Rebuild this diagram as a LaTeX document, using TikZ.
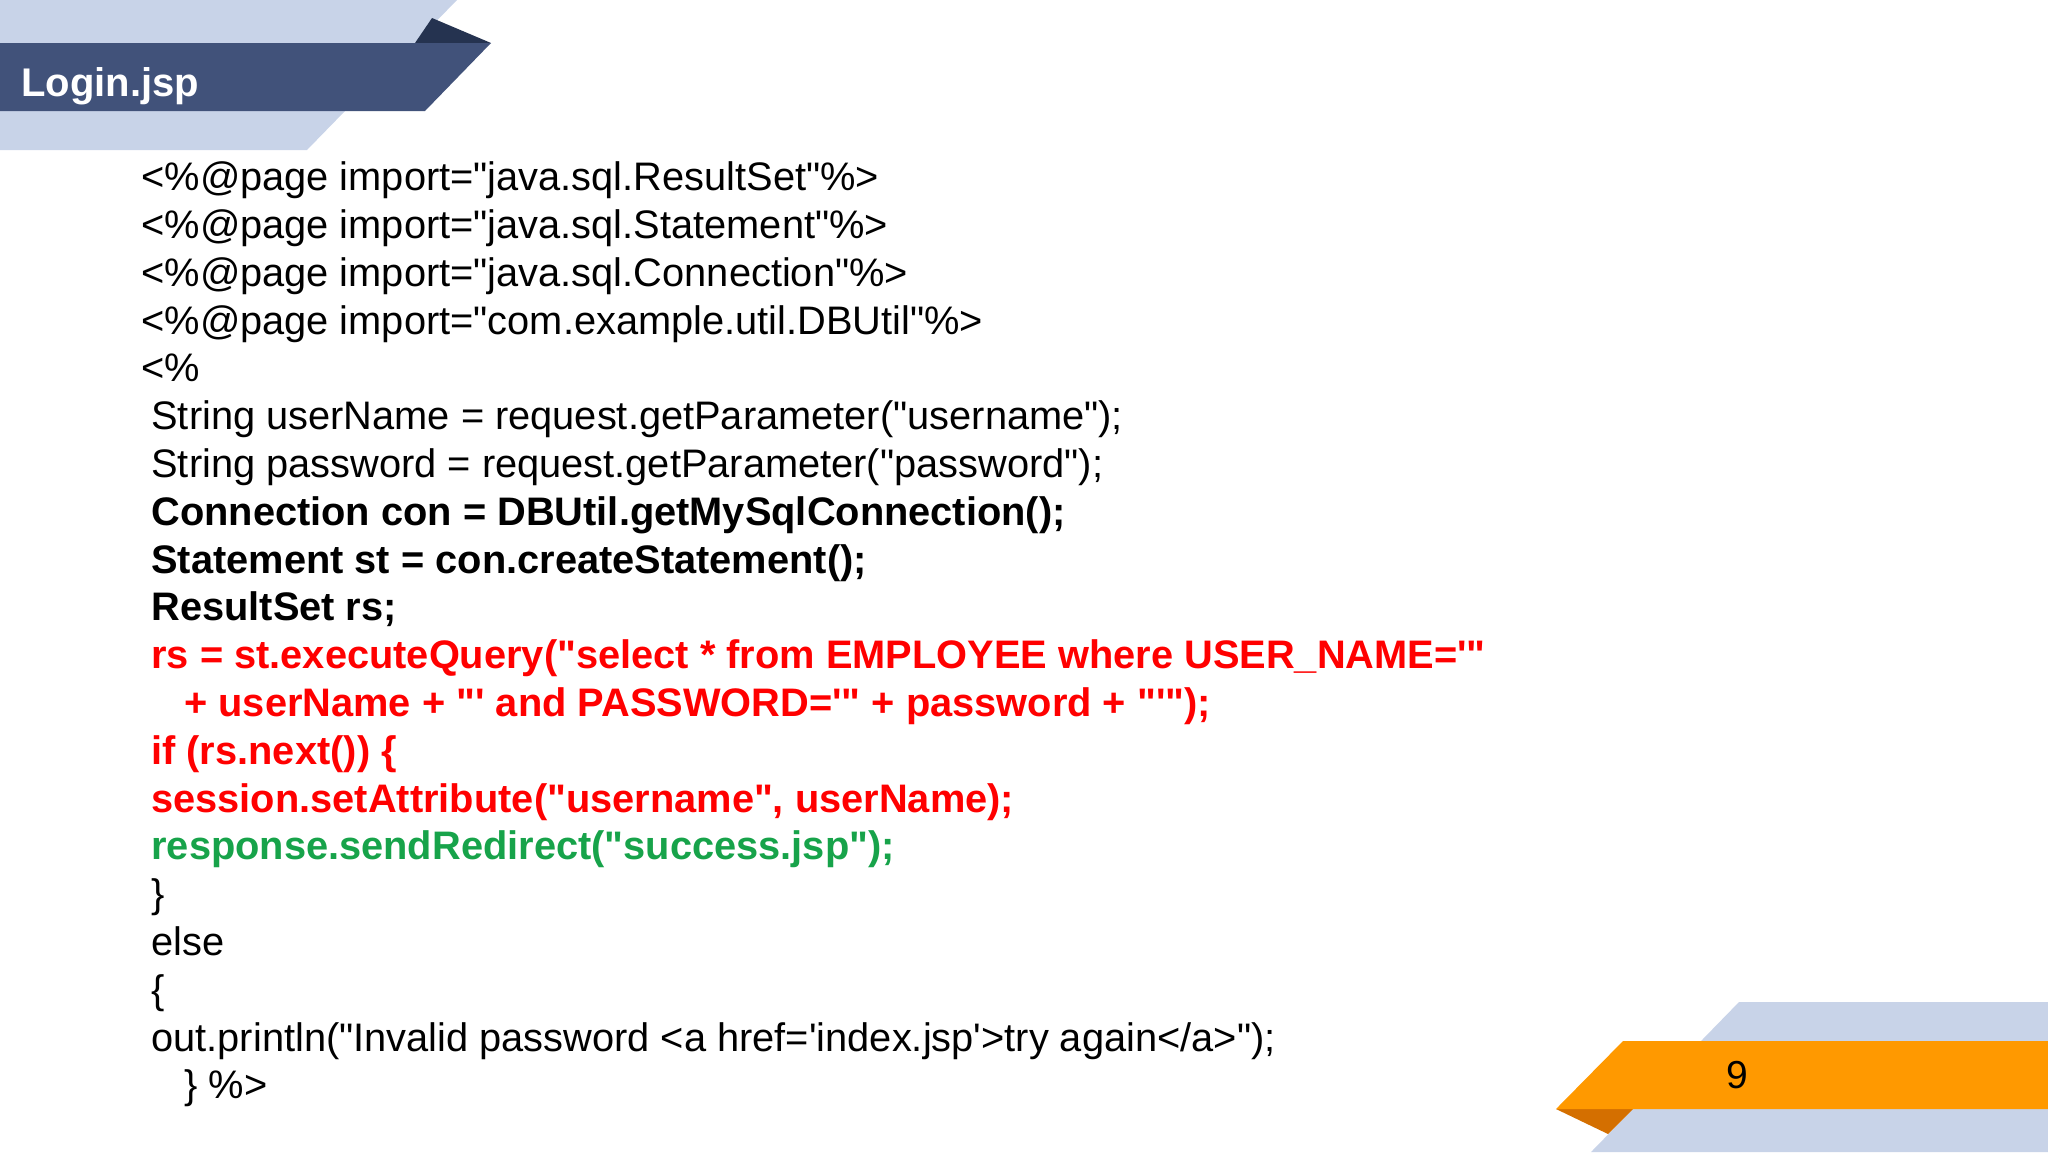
\documentclass[tikz,border=0pt]{standalone}
\usepackage{fontspec}
\newfontfamily\codefont{Liberation Sans}
\definecolor{lightb}{HTML}{C8D3E8}
\definecolor{darkb}{HTML}{41527A}
\definecolor{darkt}{HTML}{253350}
\definecolor{orng}{HTML}{FF9900}
\definecolor{dorng}{HTML}{D46F00}
\definecolor{cred}{HTML}{FF0000}
\definecolor{cgreen}{HTML}{17A34A}
\begin{document}
\begin{tikzpicture}[x=0.5pt,y=-0.5pt,
  code/.style={anchor=base west,inner sep=0pt,font=\codefont\fontsize{19.9}{22}\selectfont},
  bcode/.style={code,font=\codefont\bfseries\fontsize{19.9}{22}\selectfont}]
\useasboundingbox (0,0) rectangle (2048,1152);
% top-left banner
\fill[lightb] (0,0) -- (457,0) -- (415,43) -- (0,43) -- cycle;
\fill[lightb] (0,111) -- (345,111) -- (307,150) -- (0,150) -- cycle;
\fill[darkt] (432,18) -- (491,43) -- (415,43) -- cycle;
\fill[darkb] (0,43) -- (491,43) -- (425,111) -- (0,111) -- cycle;
\node[anchor=base west,inner sep=0pt,text=white,font=\codefont\bfseries\fontsize{20}{24}\selectfont] (title) at (21,96.5) {Login.jsp};
% bottom-right banner
\fill[lightb] (1739,1002) -- (2048,1002) -- (2048,1041) -- (1701,1041) -- cycle;
\fill[lightb] (1633,1109) -- (2048,1109) -- (2048,1152) -- (1591,1152) -- cycle;
\fill[dorng] (1556,1109) -- (1633,1109) -- (1608,1134) -- cycle;
\fill[orng] (1623,1041) -- (2048,1041) -- (2048,1109) -- (1556,1109) -- cycle;
\node[inner sep=0pt,font=\codefont\fontsize{19.5}{22}\selectfont] (pg) at (1737,1075) {9};
% code
\node[code] (l1) at (141,190.7) {<\%@page import="java.sql.ResultSet"\%>};
\node[code] (l2) at (141,238.5) {<\%@page import="java.sql.Statement"\%>};
\node[code] (l3) at (141,286.3) {<\%@page import="java.sql.Connection"\%>};
\node[code] (l4) at (141,334.1) {<\%@page import="com.example.util.DBUtil"\%>};
\node[code] (l5) at (141,381.9) {<\%};
\node[code] (l6) at (151,429.7) {String userName = request.getParameter("username");};
\node[code] (l7) at (151,477.5) {String password = request.getParameter("password");};
\node[bcode] (l8) at (151,525.3) {Connection con = DBUtil.getMySqlConnection();};
\node[bcode] (l9) at (151,573.1) {Statement st = con.createStatement();};
\node[bcode] (l10) at (151,620.9) {ResultSet rs;};
\node[bcode,text=cred] (l11) at (151,668.7) {rs = st.executeQuery("select * from EMPLOYEE where USER\_NAME='"};
\node[bcode,text=cred] (l12) at (184,716.5) {+ userName + "' and PASSWORD='" + password + "'");};
\node[bcode,text=cred] (l13) at (151,764.3) {if (rs.next()) \{};
\node[bcode,text=cred] (l14) at (151,812.1) {session.setAttribute("username", userName);};
\node[bcode,text=cgreen] (l15) at (151,859.9) {response.sendRedirect("success.jsp");};
\node[code] (l16) at (151,907.7) {\}};
\node[code] (l17) at (151,955.5) {else};
\node[code] (l18) at (151,1003.3) {\{};
\node[code] (l19) at (151,1051.1) {out.println("Invalid password <a href='index.jsp'>try again</a>");};
\node[code] (l20) at (184,1098.9) {\} \%>};
\end{tikzpicture}
\end{document}
